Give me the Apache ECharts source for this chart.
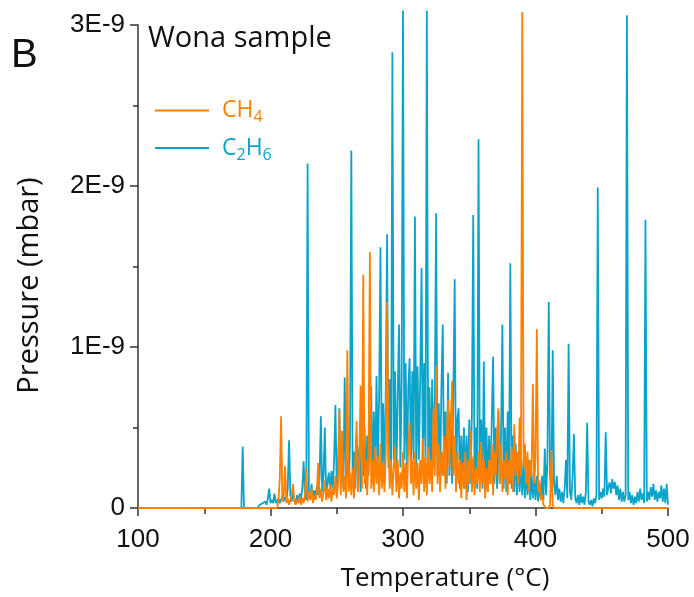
<!DOCTYPE html>
<html><head><meta charset="utf-8">
<script src="https://cdn.jsdelivr.net/npm/echarts@6/dist/echarts.min.js"></script>
<style>html,body{margin:0;padding:0;background:#fff}#c{width:694px;height:597px}</style>
</head><body><div id="c"></div>
<script>
// Temperature axis ticks (°C)
const xTicks = [100, 200, 300, 400, 500];
// Pressure tick labels (units of 1E-9 mbar)
const yTickLabels = ['0', '1E-9', '2E-9', '3E-9'];

// C2H6 pressure, in units of 1E-9 mbar, one value per °C starting at c2h6Start
const c2h6Start = 176;
const c2h6Values = [
  0,0,0,0.38,0,0,0,0,0,0,0,0,0,0,0,
  0.01,0.02,0.01,0.03,0.02,0.04,0.02,0.06,0.12,0.03,
  0.05,0.03,0.09,0.03,0.04,0.06,0.03,0.05,0.08,0.04,
  0.07,0.05,0.12,0.42,0.08,0.04,0.1,0.05,0.03,0.08,
  0.04,0.09,0.05,0.12,0.29,0.08,0.05,2.14,0.1,0.06,
  0.15,0.05,0.11,0.06,0.14,0.08,0.18,0.57,0.1,0.2,
  0.5,0.08,0.16,0.22,0.1,0.23,0.12,0.3,0.64,0.12,
  0.25,0.62,0.15,0.28,0.12,0.81,0.18,0.3,0.12,0.4,
  2.22,0.15,0.35,0.12,0.45,0.18,0.38,0.1,0.42,0.2,
  0.5,0.12,0.45,0.2,0.55,0.76,0.15,0.6,0.2,0.82,
  0.25,0.7,1.62,0.2,0.65,0.15,0.75,1.7,0.25,0.8,
  0.2,2.83,0.3,0.85,0.2,0.7,1.14,0.25,0.8,3.09,
  0.3,0.9,0.2,0.75,0.93,0.25,0.85,0.3,1.81,0.2,
  0.88,0.3,0.8,1.49,0.25,0.9,0.3,3.09,0.2,0.75,
  0.2,0.8,0.25,0.7,1.83,0.2,0.65,0.15,0.75,1.14,
  0.2,0.6,0.15,0.84,0.2,0.6,0.15,0.7,1.42,0.15,
  0.55,0.62,0.12,0.45,0.15,0.5,0.12,0.45,0.1,0.55,
  0.15,0.6,1.82,0.15,0.5,0.12,2.29,0.2,0.55,0.12,
  0.91,0.15,0.5,0.1,0.45,0.15,0.55,0.94,0.15,0.5,
  0.12,0.6,0.15,0.45,1.14,0.12,0.5,0.1,0.6,0.15,
  1.52,0.12,0.45,0.1,0.4,0.08,0.35,0.1,0.3,0.08,
  0.3,0.06,0.25,0.08,0.3,0.05,0.22,0.06,0.2,0.05,
  0.2,0.04,0.15,0.06,0.2,0.05,0.37,0.08,0.3,1.28,
  0.2,0.1,0.98,0.15,0.08,0.2,0.05,0.12,0.04,0.1,
  0.03,0.12,0.3,0.06,1.02,0.1,0.05,0.2,0.46,0.06,
  0.03,0.08,0.02,0.09,0.03,0.07,0.02,0.1,0.53,0.04,
  0.02,0.05,0.01,0.06,0.03,0.08,1.99,0.05,0.1,0.06,
  0.12,0.07,0.47,0.08,0.13,0.16,0.09,0.18,0.12,0.16,
  0.08,0.14,0.05,0.12,0.04,0.1,0.04,0.08,3.06,0.05,
  0.1,0.03,0.08,0.02,0.07,0.03,0.1,0.04,0.12,0.05,
  0.09,0.03,1.79,0.04,0.1,0.05,0.13,0.07,0.15,0.05,
  0.11,0.04,0.1,0.06,0.14,0.04,0.12,0.03,0.15,0.02
];

// CH4 pressure, in units of 1E-9 mbar, one value per °C starting at ch4Start
const ch4Start = 205;
const ch4Values = [
  0,0.05,0.18,0.57,0.04,0.08,0.26,0.03,0.06,0.02,
  0.05,0.08,0.15,0.04,0.02,0.05,0.03,0.07,0.02,0.06,
  0.03,0.08,0.25,0.04,0.1,0.05,0.12,0.03,0.08,0.05,
  0.1,0.28,0.06,0.12,0.04,0.1,0.17,0.05,0.12,0.06,
  0.15,0.04,0.12,0.08,0.2,0.06,0.15,0.61,0.08,0.48,
  0.1,0.2,0.06,0.98,0.1,0.22,0.08,0.25,0.06,0.3,
  0.54,0.1,0.28,0.76,0.12,1.45,0.15,0.3,0.08,0.35,
  1.59,0.12,0.3,0.1,0.38,0.15,0.32,0.08,0.4,0.12,
  0.28,0.1,0.35,1.28,0.41,0.12,0.3,0.08,0.25,0.38,
  0.1,0.3,0.06,0.22,0.12,0.35,0.1,0.28,0.06,0.4,
  0.53,0.15,0.3,0.08,0.35,0.12,0.28,0.05,0.3,0.15,
  0.43,0.1,0.32,0.08,0.38,0.15,0.3,0.1,0.62,0.2,
  0.88,0.15,0.4,0.1,0.35,0.2,0.45,0.12,0.4,0.67,
  0.25,0.5,0.79,0.2,0.45,0.1,0.35,0.15,0.3,0.06,
  0.28,0.12,0.35,0.05,0.3,0.15,0.48,0.1,0.32,0.08,
  0.25,0.15,0.35,0.1,0.41,0.15,0.3,0.06,0.25,0.1,
  0.3,0.15,0.4,0.08,0.35,0.2,0.45,0.62,0.15,0.4,
  0.1,0.3,0.18,0.35,0.08,0.3,0.15,0.38,0.1,0.52,
  0.2,0.35,0.15,0.56,0.2,3.08,0.25,0.4,0.15,0.35,
  0.1,0.3,0.2,0.77,0.15,0.3,1.11,0.1,0.17,0.05,
  0.08,0.02,0.03,0,0.01,0,0.02,0.36,0.02,0,0
];

const ORANGE = '#ff8000';
const BLUE = '#0aa3c9';

function toSeries(start, vals) {
  const d = [[xTicks[0], 0]];
  vals.forEach((v, i) => d.push([start + i, v]));
  const last = d[d.length - 1][0];
  if (last < xTicks[xTicks.length - 1]) d.push([xTicks[xTicks.length - 1], 0]);
  return d;
}

function legendRich(color) {
  return {
    a: {color: color, fontFamily: 'Open Sans', fontSize: 23, padding: [0, 0, 0, 8]},
    m: {color: color, fontFamily: 'Open Sans', fontSize: 23},
    s: {color: color, fontFamily: 'Open Sans', fontSize: 16, padding: [14, 0, 0, 0]}
  };
}

const chart = echarts.init(document.getElementById('c'), null, {renderer: 'canvas'});
const axisColor = '#333';
chart.setOption({
  animation: false,
  backgroundColor: '#fff',
  title: [
    {text: 'B', left: 6, top: 31, textStyle: {fontFamily: 'Liberation Sans', fontSize: 40, fontWeight: 'normal', color: '#111'}},
    {text: 'Wona sample', left: 143, top: 19, textStyle: {fontFamily: 'Open Sans', fontSize: 29, fontWeight: 'normal', color: '#111'}}
  ],
  legend: {
    orient: 'vertical', left: 155, top: 99, padding: 0, itemWidth: 54, itemHeight: 2, itemGap: 11,
    icon: 'rect',
    data: [
      {name: 'CH4', textStyle: {color: ORANGE, fontFamily: 'Open Sans', fontSize: 23, rich: legendRich(ORANGE)}},
      {name: 'C2H6', textStyle: {color: BLUE, fontFamily: 'Open Sans', fontSize: 23, rich: legendRich(BLUE)}}
    ],
    formatter: n => n === 'CH4' ? '{a|C}{m|H}{s|4}' : '{a|C}{s|2}{m|H}{s|6}'
  },
  grid: {left: 138, right: 26, top: 25, bottom: 87},
  xAxis: {
    type: 'value', min: 100, max: 500, interval: 100,
    name: 'Temperature (°C)', nameLocation: 'middle', nameGap: 58,
    nameTextStyle: {fontFamily: 'Open Sans', fontSize: 26, color: '#111', padding: [0, 0, 0, 84]},
    axisLine: {lineStyle: {color: axisColor, width: 1.5}},
    axisTick: {length: 8, lineStyle: {color: axisColor, width: 1.5}},
    minorTick: {show: true, splitNumber: 2, length: 6, lineStyle: {color: axisColor, width: 1.5}},
    splitLine: {show: false},
    axisLabel: {fontFamily: 'Liberation Sans', fontSize: 26, color: '#111', margin: 19}
  },
  yAxis: {
    type: 'value', min: 0, max: 3, interval: 1,
    name: 'Pressure (mbar)', nameLocation: 'middle', nameGap: 94,
    nameTextStyle: {fontFamily: 'Open Sans', fontSize: 29, color: '#111', padding: [0, 38, 0, 0]},
    axisLine: {show: true, lineStyle: {color: axisColor, width: 1.5}},
    axisTick: {show: true, length: 8, lineStyle: {color: axisColor, width: 1.5}},
    minorTick: {show: true, splitNumber: 2, length: 5, lineStyle: {color: axisColor, width: 1.5}},
    splitLine: {show: false},
    axisLabel: {fontFamily: 'Liberation Sans', fontSize: 26, color: '#111', margin: 13,
      formatter: v => yTickLabels[Math.round(v)]}
  },
  series: [
    {name: 'C2H6', type: 'line', data: toSeries(c2h6Start, c2h6Values), symbol: 'none', clip: false,
      lineStyle: {color: BLUE, width: 1.8}, itemStyle: {color: BLUE}, z: 2},
    {name: 'CH4', type: 'line', data: toSeries(ch4Start, ch4Values), symbol: 'none', clip: false,
      lineStyle: {color: ORANGE, width: 1.8}, itemStyle: {color: ORANGE}, z: 3}
  ]
});
</script></body></html>
